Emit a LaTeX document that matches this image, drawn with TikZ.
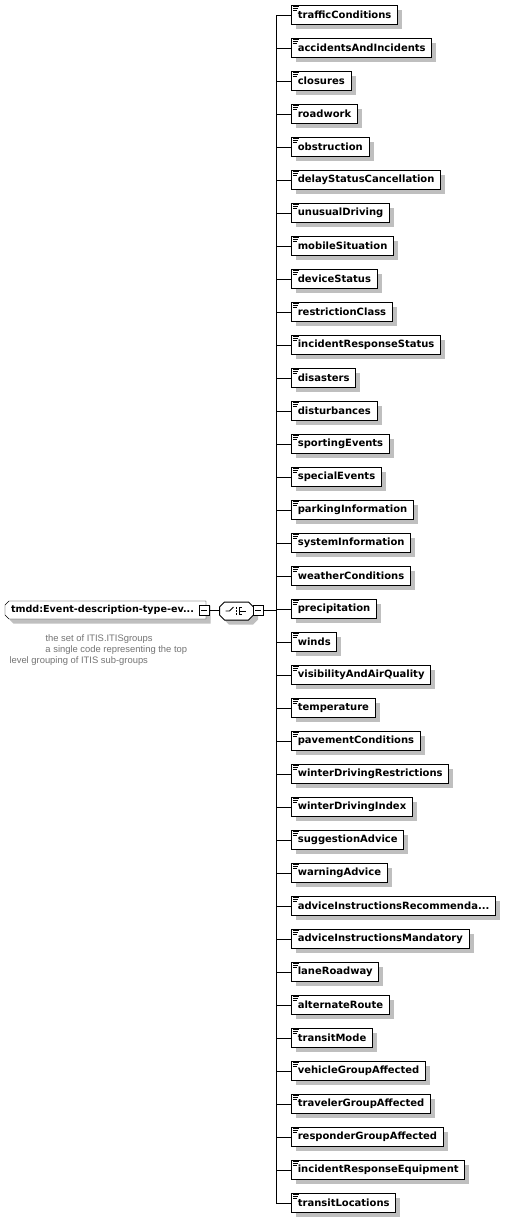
\documentclass[tikz,border=0pt]{standalone}
\usepackage{fontspec}
\setmainfont{DejaVu Sans}
\newfontfamily\notefont{Liberation Sans}
\usetikzlibrary{shadows,backgrounds}
\newcommand\cutdots{...}

\begin{document}
\begin{tikzpicture}[x=1pt, y=-1pt, line width=1pt, line join=miter,
    boxshadow/.style={drop shadow={shadow xshift=4.5pt, shadow yshift=-4.5pt, fill=black!25, opacity=1}},
    elem/.style={draw, fill=white, anchor=west, minimum height=19pt, inner xsep=6.3pt, inner ysep=0pt,
      font=\fontsize{10}{12}\selectfont\bfseries, boxshadow},
    group/.style={anchor=west, minimum height=17pt, text width=189pt, align=left, inner xsep=5.5pt,
      inner ysep=0pt, font=\fontsize{9.6}{12}\selectfont\bfseries},
    choicebox/.style={minimum width=33pt, minimum height=17pt, inner sep=0pt},
    outline/.style={draw, fill=white, boxshadow},
    minusbox/.style={draw, fill=white, minimum size=10pt, inner sep=0pt,
      path picture={\draw[line width=1pt] ([xshift=2pt]path picture bounding box.west) -- ([xshift=-2pt]path picture bounding box.east);}},
    note/.style={anchor=north west, align=left, text=black!55, inner sep=0pt,
      font=\notefont\fontsize{9.4}{11}\selectfont}]

  \useasboundingbox (0,0) rectangle (510,1219);

  % the type and its choice
  \node[group] (ev) at (5,610) {\mbox{tmdd:Event-description-type-ev\cutdots}};
  \node[choicebox] (ch) at (236.5,611) {};
  \begin{scope}[on background layer]
    \draw[outline] ([xshift=4pt]ev.north west) -- (ev.north east) -- (ev.south east)
      -- ([xshift=4pt]ev.south west) -- ([yshift=4pt]ev.south west) -- ([yshift=-4pt]ev.north west) -- cycle;
  \end{scope}
  \draw[outline] ([yshift=-5pt]ch.north west) -- ([xshift=5pt]ch.north west) -- ([xshift=-5pt]ch.north east)
    -- ([yshift=-5pt]ch.north east) -- ([yshift=5pt]ch.south east) -- ([xshift=-5pt]ch.south east)
    -- ([xshift=5pt]ch.south west) -- ([yshift=5pt]ch.south west) -- cycle;
  \node[minusbox] (lm) at (204,610) {};
  \node[minusbox] (rm) at (258,610) {};
  \draw (lm.east) -- (lm.east -| ch.west);

  % switch icon inside the choice
  \draw[line width=0.8pt] ([xshift=-11pt]ch.center) -- ++(4,0) -- ++(4,-4);
  \foreach \d in {-3,0,3}
    \fill ([yshift=-\d pt]ch.center) ++(-0.8,-0.8) rectangle ++(1.6,1.6);
  \draw[line width=0.8pt] ([xshift=2.5pt,yshift=3.5pt]ch.center) -- ++(0,7);
  \foreach \d in {-3.5,0,3.5}
    \draw[line width=0.8pt] ([xshift=2.5pt,yshift=-\d pt]ch.center) -- ++(3,0);
  \draw[line width=0.8pt] ([xshift=5.5pt]ch.center) -- ++(4,0);

  % the spine
  \coordinate (spine top) at (276,15);
  \coordinate (spine bot) at (276,1203);
  \draw (spine top) -- (spine bot);
  \draw (rm.east) -- (rm.east -| spine top);

  % child elements
  \foreach \name [count=\i] in {trafficConditions, accidentsAndIncidents, closures, roadwork,
      obstruction, delayStatusCancellation, unusualDriving, mobileSituation, deviceStatus,
      restrictionClass, incidentResponseStatus, disasters, disturbances, sportingEvents,
      specialEvents, parkingInformation, systemInformation, weatherConditions, precipitation,
      winds, visibilityAndAirQuality, temperature, pavementConditions, winterDrivingRestrictions,
      winterDrivingIndex, suggestionAdvice, warningAdvice, {adviceInstructionsRecommenda\cutdots},
      adviceInstructionsMandatory, laneRoadway, alternateRoute, transitMode,
      vehicleGroupAffected, travelerGroupAffected, responderGroupAffected,
      incidentResponseEquipment, transitLocations} {
    \node[elem] (e\i) at (291,{15+(\i-1)*33}) {\name};
    \draw (e\i.west) -- (e\i.west -| spine top);
    % element icon
    \foreach \k in {0,1,2}
      \draw[line width=0.7pt] ([xshift=2pt,yshift={-1.8pt-1.6*\k pt}]e\i.north west) -- ++({6-\k},0);
  }

  % documentation
  \node[note] (doc) at (9,634) {\hspace*{36pt}the set of ITIS.ITISgroups\\
    \hspace*{36pt}a single code representing the top\\
    level grouping of ITIS sub-groups};

\end{tikzpicture}
\end{document}
